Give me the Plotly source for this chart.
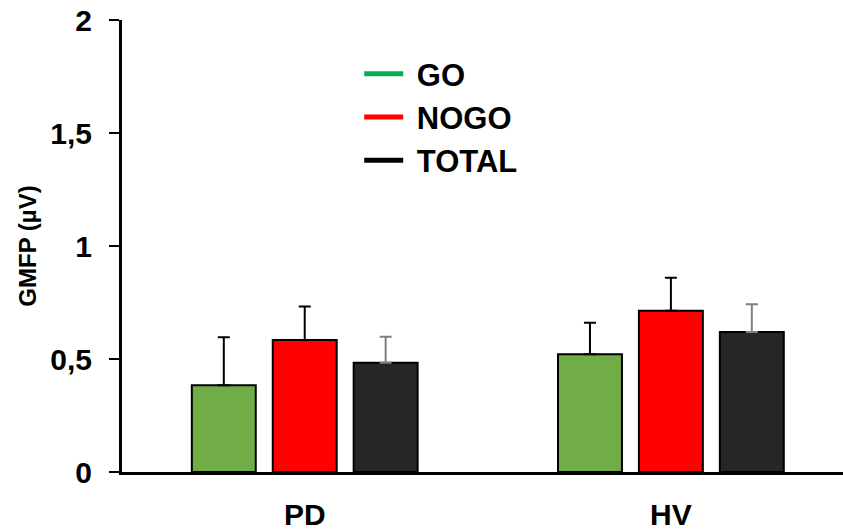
import plotly.graph_objects as go

# Grouped bar chart of GMFP by condition and group
groups = ["PD", "HV"]
conditions = ["GO", "NOGO", "TOTAL"]
go_means = [0.384, 0.521]
go_errors = [0.212, 0.139]
nogo_means = [0.584, 0.714]
nogo_errors = [0.148, 0.145]
total_means = [0.483, 0.619]
total_errors = [0.116, 0.123]
y_ticks = [0, 0.5, 1, 1.5, 2]
y_tick_labels = ["0", "0,5", "1", "1,5", "2"]

bar_fill = ["#70AD47", "#FF0000", "#262626"]
legend_line = ["#00B050", "#FF0000", "#000000"]
err_colors = ["#000000", "#000000", "#7F7F7F"]

FONT = "Liberation Sans, Arial, sans-serif"

fig = go.Figure()

series = [(go_means, go_errors), (nogo_means, nogo_errors), (total_means, total_errors)]
for i, (means, errs) in enumerate(series):
    fig.add_trace(go.Bar(
        x=groups, y=means, name=conditions[i], showlegend=False,
        marker=dict(color=bar_fill[i], line=dict(color="#000000", width=2)),
        error_y=dict(type="data", array=errs, symmetric=False, arrayminus=[0] * len(errs),
                     color=err_colors[i], thickness=2, width=6),
    ))

# Legend entries drawn as line keys (a no-break space keeps a gap after the key)
for i, name in enumerate(conditions):
    fig.add_trace(go.Scatter(
        x=[None], y=[None], mode="lines", name="\u00a0" + name,
        line=dict(color=legend_line[i], width=5),
        legendgroup=name,
    ))

fig.update_layout(
    width=843, height=531,
    margin=dict(l=122, r=0, t=20, b=55, pad=0),
    paper_bgcolor="white", plot_bgcolor="white",
    barmode="group", bargap=0.337, bargroupgap=0.21,
    font=dict(family=FONT, color="#000000"),
    legend=dict(
        x=0.329, y=0.94, xanchor="left", yanchor="top",
        font=dict(family=FONT, size=31, weight="bold", color="#000000"),
        bgcolor="rgba(0,0,0,0)", tracegroupgap=0, traceorder="normal",
        itemwidth=39,
    ),
    xaxis=dict(
        type="category", range=[-0.499, 1.47],
        showline=True, linecolor="#000000", linewidth=3,
        ticks="", showgrid=False, zeroline=False,
        tickfont=dict(family=FONT, size=30, weight="bold", color="#000000"),
        ticklabelstandoff=14,
    ),
    yaxis=dict(
        range=[0, 2], tickvals=y_ticks, ticktext=y_tick_labels,
        showline=True, linecolor="#000000", linewidth=3,
        ticks="outside", ticklen=10, tickwidth=2, tickcolor="#000000",
        showgrid=False, zeroline=False,
        tickfont=dict(family=FONT, size=30, weight="bold", color="#000000"),
        ticklabelstandoff=11,
        title=dict(text="GMFP (µV)", standoff=7,
                   font=dict(family=FONT, size=24, weight="bold", color="#000000")),
    ),
)

fig.write_html("out.html")
